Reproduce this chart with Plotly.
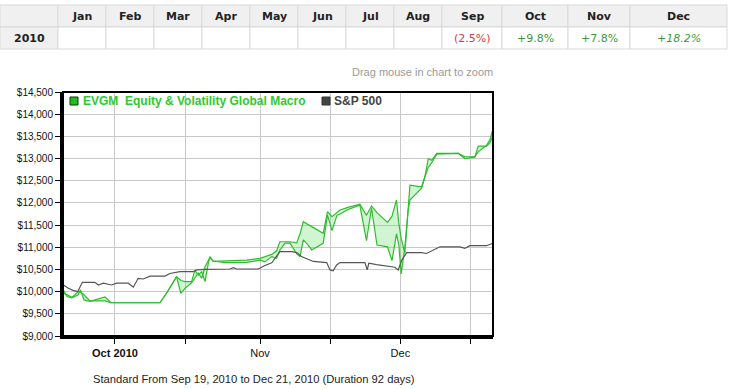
import plotly.graph_objects as go

# ---------------- data ----------------
months = ["Jan", "Feb", "Mar", "Apr", "May", "Jun", "Jul", "Aug", "Sep", "Oct", "Nov", "Dec"]
table_year = "2010"
month_returns = ["", "", "", "", "", "", "", "", "(2.5%)", "+9.8%", "+7.8%", "+18.2%"]

green_dates = [
    "2010-09-20 00:00", "2010-09-20 18:00", "2010-09-21 19:00", "2010-09-23 04:00", "2010-09-23 15:00",
    "2010-09-24 09:00", "2010-09-25 16:00", "2010-09-27 19:00", "2010-09-28 21:00", "2010-09-30 01:00",
    "2010-09-30 15:00", "2010-10-10 15:00", "2010-10-12 01:00", "2010-10-14 04:00", "2010-10-15 02:00",
    "2010-10-15 23:00", "2010-10-17 09:00", "2010-10-18 02:00", "2010-10-18 19:00", "2010-10-19 13:00",
    "2010-10-20 06:00", "2010-10-20 23:00", "2010-10-21 07:00", "2010-10-22 00:00", "2010-10-24 12:00",
    "2010-10-29 03:00", "2010-11-01 00:00", "2010-11-02 01:00", "2010-11-03 12:00", "2010-11-04 13:00",
    "2010-11-05 06:00", "2010-11-06 08:00", "2010-11-07 09:00", "2010-11-08 20:00", "2010-11-09 13:00",
    "2010-11-10 06:00", "2010-11-11 07:00", "2010-11-12 01:00", "2010-11-14 12:00", "2010-11-15 10:00",
    "2010-11-16 09:00", "2010-11-17 11:00", "2010-11-18 02:00", "2010-11-19 19:00", "2010-11-22 08:00",
    "2010-11-23 18:00", "2010-11-24 20:00", "2010-11-26 00:00", "2010-11-28 06:00", "2010-11-29 05:00",
    "2010-11-30 04:00", "2010-11-30 16:00", "2010-12-01 04:00", "2010-12-01 23:00", "2010-12-02 16:00",
    "2010-12-03 01:00", "2010-12-05 13:00", "2010-12-06 06:00", "2010-12-06 23:00", "2010-12-07 16:00",
    "2010-12-08 19:00", "2010-12-13 10:00", "2010-12-14 19:00", "2010-12-16 22:00", "2010-12-17 15:00",
    "2010-12-19 10:00", "2010-12-20 03:00", "2010-12-20 18:00",
]
evgm_line_a = [
    10030, 9890, 9860, 9930, 10040, 9810, 9780, 9850, 9880, 9760,
    9750, 9750, 9970, 10335, 10250, 10225, 10225, 10485, 10375, 10450,
    10225, 10640, 10790, 10680, 10690, 10710, 10750, 10790, 10840, 10920,
    11125, 11125, 11125, 11100, 11300, 11575, 11500, 11465, 11315, 11800,
    11690, 11800, 11840, 11900, 11970, 11720, 11930, 11780, 11560, 11700,
    12070, 11540, 11200, 10870, 11765, 12400, 12365, 12600, 13000, 12960,
    13115, 13115, 13040, 13040, 13150, 13300, 13420, 13650,
]
evgm_line_b = [
    9960, 9930, 9870, 10000, 9990, 9930, 9790, 9780, 9790, 9750,
    9750, 9750, 9970, 10335, 9960, 10075, 10200, 10300, 10420, 10300,
    10560, 10700, 10770, 10690, 10655, 10660, 10710, 10670, 10790, 10750,
    10940, 11090, 11100, 10850, 10790, 11165, 11050, 10940, 11090, 11725,
    11375, 11725, 11750, 11850, 11950, 11150, 11880, 11050, 11010, 10700,
    11300, 11050, 10400, 11000, 11840, 12065, 12330, 12590, 12800, 12900,
    13100, 13115, 13000, 13030, 13280, 13280, 13350, 13500,
]

sp_dates = [
    "2010-09-20 00:00", "2010-09-21 01:00", "2010-09-22 01:00", "2010-09-23 01:00", "2010-09-24 01:00",
    "2010-09-26 17:00", "2010-09-27 11:00", "2010-09-28 12:00", "2010-09-30 07:00", "2010-10-01 09:00",
    "2010-10-03 20:00", "2010-10-04 22:00", "2010-10-05 23:00", "2010-10-07 01:00", "2010-10-08 12:00",
    "2010-10-11 16:00", "2010-10-12 18:00", "2010-10-14 21:00", "2010-10-17 18:00", "2010-10-18 11:00",
    "2010-10-20 06:00", "2010-10-25 14:00", "2010-10-26 07:00", "2010-10-27 00:00", "2010-10-31 15:00",
    "2010-11-02 01:00", "2010-11-03 12:00", "2010-11-04 13:00", "2010-11-05 06:00", "2010-11-07 20:00",
    "2010-11-08 21:00", "2010-11-09 21:00", "2010-11-11 16:00", "2010-11-12 09:00", "2010-11-15 06:00",
    "2010-11-15 23:00", "2010-11-16 15:00", "2010-11-17 09:00", "2010-11-18 02:00", "2010-11-23 10:00",
    "2010-11-23 22:00", "2010-11-24 06:00", "2010-11-25 22:00", "2010-11-27 17:00", "2010-11-29 20:00",
    "2010-11-30 13:00", "2010-12-01 06:00", "2010-12-02 08:00", "2010-12-05 13:00", "2010-12-06 14:00",
    "2010-12-09 11:00", "2010-12-13 17:00", "2010-12-14 19:00", "2010-12-15 20:00", "2010-12-19 10:00",
    "2010-12-20 18:00",
]
sp500_values = [
    10150, 10075, 10030, 10000, 10210, 10210, 10150, 10190, 10150, 10190,
    10190, 10100, 10300, 10285, 10350, 10350, 10410, 10450, 10450, 10490,
    10500, 10510, 10540, 10510, 10510, 10590, 10650, 10800, 10900, 10900,
    10880, 10790, 10710, 10680, 10655, 10490, 10470, 10600, 10655, 10655,
    10490, 10640, 10610, 10580, 10550, 10490, 10700, 10880, 10880, 10860,
    11010, 11010, 10975, 11035, 11035, 11090,
]

x_tick_dates = ["2010-10-01", "2010-10-16", "2010-11-01", "2010-11-16", "2010-12-01", "2010-12-16"]
x_tick_labels = ["<b>Oct 2010</b>", "", "Nov", "", "Dec", ""]

legend_names = ["EVGM\u00a0 Equity & Volatility Global Macro", "S&P 500"]
zoom_hint = "Drag mouse in chart to zoom"
footer_text = "Standard From Sep 19, 2010 to Dec 21, 2010 (Duration 92 days)"

# ---------------- layout helpers (pixel -> paper) ----------------
W, H = 730, 389
PL, PR, PT, PB = 63, 493, 92, 336


def fx(x):
    return (x - PL) / (PR - PL)


def fy(y):
    return (PB - y) / (PB - PT)


GREEN = "#2ec92e"
GREEN_LINE = "#2fbd2f"
GREEN_FILL = "rgba(70,215,70,0.25)"
GRAY_LINE = "#555555"
FONT = "Liberation Sans, Arial, sans-serif"
TFONT = "DejaVu Sans, Verdana, sans-serif"

fig = go.Figure()
fig.add_trace(go.Scatter(x=green_dates, y=evgm_line_a, mode="lines",
                         line=dict(color=GREEN_LINE, width=1.2), hoverinfo="skip", showlegend=False))
fig.add_trace(go.Scatter(x=green_dates, y=evgm_line_b, mode="lines", fill="tonexty",
                         fillcolor=GREEN_FILL, line=dict(color=GREEN_LINE, width=1.2),
                         name=legend_names[0], showlegend=False))
fig.add_trace(go.Scatter(x=sp_dates, y=sp500_values, mode="lines",
                         line=dict(color=GRAY_LINE, width=1.2), name=legend_names[1], showlegend=False))

shapes = []
annotations = []

# plot frame
shapes.append(dict(type="rect", xref="paper", yref="paper", x0=0, x1=1, y0=0, y1=1,
                   line=dict(color="black", width=2), layer="above"))

# legend
shapes.append(dict(type="rect", xref="paper", yref="paper", x0=fx(70), x1=fx(78), y0=fy(105), y1=fy(97),
                   fillcolor="#22bb22", line=dict(color="#004400", width=1), layer="above"))
annotations.append(dict(xref="paper", yref="paper", x=fx(81), y=fy(101), xanchor="left", yanchor="middle",
                        text="<b>" + legend_names[0] + "</b>", showarrow=False,
                        font=dict(family=FONT, size=12, color=GREEN)))
shapes.append(dict(type="rect", xref="paper", yref="paper", x0=fx(322), x1=fx(330), y0=fy(105), y1=fy(97),
                   fillcolor="#444444", line=dict(color="#333333", width=1), layer="above"))
annotations.append(dict(xref="paper", yref="paper", x=fx(332), y=fy(101), xanchor="left", yanchor="middle",
                        text="<b>" + legend_names[1] + "</b>", showarrow=False,
                        font=dict(family=FONT, size=12, color="#444444")))

# hint and footer
annotations.append(dict(xref="paper", yref="paper", x=fx(495), y=fy(72), xanchor="right", yanchor="middle",
                        text=zoom_hint, showarrow=False, font=dict(family=FONT, size=11, color="#9a9a9a")))
annotations.append(dict(xref="paper", yref="paper", x=fx(254), y=fy(379), xanchor="center", yanchor="middle",
                        text=footer_text, showarrow=False, font=dict(family=FONT, size=11.2, color="#222222")))

# monthly table
col_edges = [0, 58, 106, 154, 202, 250, 298, 346, 394, 442, 502, 568, 630, 727]
row_edges = [5, 27, 49]
HEAD_FILL = "#f0f0f0"
BORDER = "#d9d9d9"
for r in range(2):
    for c in range(len(col_edges) - 1):
        fill = HEAD_FILL if (r == 0 or c == 0) else "white"
        shapes.append(dict(type="rect", xref="paper", yref="paper",
                           x0=fx(col_edges[c]), x1=fx(col_edges[c + 1]),
                           y0=fy(row_edges[r + 1]), y1=fy(row_edges[r]),
                           fillcolor=fill, line=dict(color=BORDER, width=1), layer="below"))

for i, m in enumerate(months):
    cx = (col_edges[i + 1] + col_edges[i + 2]) / 2
    annotations.append(dict(xref="paper", yref="paper", x=fx(cx), y=fy(16), xanchor="center", yanchor="middle",
                            text="<b>" + m + "</b>", showarrow=False,
                            font=dict(family=TFONT, size=11, color="#222222")))
    val = month_returns[i]
    if val:
        color = "#d04040" if val.startswith("(") else "#3a9a3a"
        txt = "<i>" + val + "</i>" if i == len(months) - 1 else val
        annotations.append(dict(xref="paper", yref="paper", x=fx(cx), y=fy(38), xanchor="center",
                                yanchor="middle", text=txt, showarrow=False,
                                font=dict(family=TFONT, size=11, color=color)))
annotations.append(dict(xref="paper", yref="paper", x=fx(col_edges[0] + 29), y=fy(38), xanchor="center",
                        yanchor="middle", text="<b>" + table_year + "</b>", showarrow=False,
                        font=dict(family=TFONT, size=11, color="#222222")))

fig.update_layout(
    width=W, height=H,
    margin=dict(l=PL, r=W - PR, t=PT, b=H - PB, pad=0),
    paper_bgcolor="white", plot_bgcolor="white",
    showlegend=False,
    shapes=shapes, annotations=annotations,
    xaxis=dict(
        type="date", range=["2010-09-19 21:30", "2010-12-20 19:00"],
        tickvals=x_tick_dates, ticktext=x_tick_labels,
        showgrid=True, gridcolor="#c8c8c8", gridwidth=1,
        showline=True, linecolor="black", linewidth=3,
        ticks="outside", ticklen=5, tickcolor="black", tickwidth=1,
        tickfont=dict(family=FONT, size=11, color="#111111"),
        zeroline=False, fixedrange=True,
    ),
    yaxis=dict(
        range=[9000, 14500], dtick=500, tick0=9000,
        tickprefix="$", tickformat=",d",
        showgrid=True, gridcolor="#c8c8c8", gridwidth=1,
        showline=True, linecolor="black", linewidth=3,
        ticks="outside", ticklen=5, tickcolor="black", tickwidth=1,
        tickfont=dict(family=FONT, size=10, color="#111111"),
        zeroline=False, fixedrange=True,
    ),
)

fig.write_html("out.html", config={"displayModeBar": False},
               post_script="document.body.style.margin='0';document.body.style.overflow='hidden';")
